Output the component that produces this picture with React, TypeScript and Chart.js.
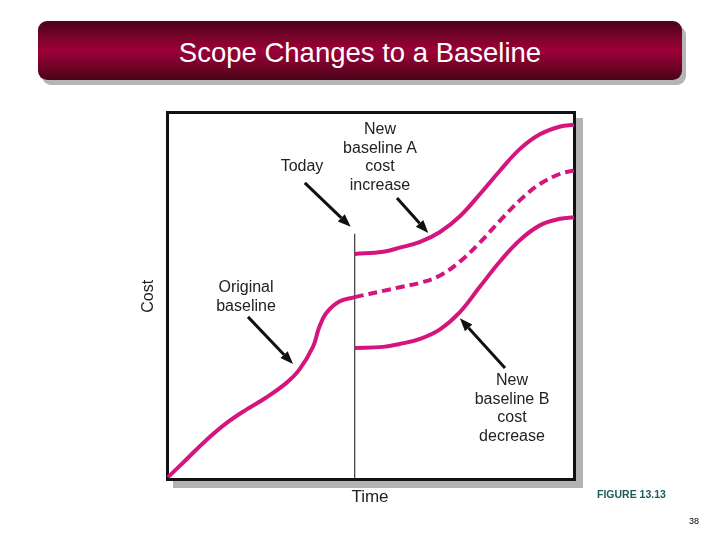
import { useEffect, useRef } from "react";
import { Chart, registerables } from "chart.js";

Chart.register(...registerables);

// x = time (0-100), y = cost (0-100)
const TODAY = 46;

const originalX = [0, 4.4, 9.4, 14.3, 19.2, 24.1, 29.1, 32.3, 35.7, 37.2, 38.9, 42.1, 46];
const originalY = [0.5, 5.2, 10.6, 15.2, 18.9, 22.2, 26.2, 29.8, 36.1, 41.3, 45.2, 48.4, 49.7];

const projectedX = [46, 53, 57.1, 62.1, 67, 71.9, 76.8, 81.8, 86.7, 91.6, 96.6, 100];
const projectedY = [49.7, 51.4, 52.4, 53.6, 55.6, 59.4, 64.6, 70.6, 76.2, 80.6, 83.4, 84.3];

const baselineAX = [46, 53, 57.1, 62.1, 67, 71.9, 76.8, 81.8, 86.7, 91.6, 96.6, 100];
const baselineAY = [61.5, 62.1, 63.2, 64.8, 67.5, 71.8, 77.8, 84.3, 90.2, 94.2, 96.3, 96.8];

const baselineBX = [46, 53, 57.1, 62.1, 67, 71.9, 76.8, 81.8, 86.7, 91.6, 96.6, 100];
const baselineBY = [35.8, 36.1, 36.9, 38.3, 40.9, 45.6, 52.5, 59.5, 65.3, 69.3, 71.1, 71.5];

const todayY = [0, 67];

// arrows: [fromX, fromY, toX, toY] in data units
const arrows = [
  [33.7, 80.9, 45, 68.9],
  [56.4, 76.8, 64.1, 67.2],
  [19.7, 44.3, 30.8, 31.4],
  [83, 30.3, 71.9, 43.9],
];

const PINK = "#d5157e";

const toPoints = (xs: number[], ys: number[]) => xs.map((x, i) => ({ x, y: ys[i] }));

const arrowPlugin = {
  id: "arrows",
  afterDatasetsDraw(chart: Chart) {
    const { ctx, scales } = chart;
    const sx = scales.x;
    const sy = scales.y;
    ctx.save();
    ctx.strokeStyle = "#111";
    ctx.fillStyle = "#111";
    ctx.lineWidth = 3;
    arrows.forEach(([x1, y1, x2, y2]) => {
      const ax = sx.getPixelForValue(x1);
      const ay = sy.getPixelForValue(y1);
      const bx = sx.getPixelForValue(x2);
      const by = sy.getPixelForValue(y2);
      const ang = Math.atan2(by - ay, bx - ax);
      const head = 13;
      const hx = bx - Math.cos(ang) * head;
      const hy = by - Math.sin(ang) * head;
      ctx.beginPath();
      ctx.moveTo(ax, ay);
      ctx.lineTo(hx, hy);
      ctx.stroke();
      ctx.beginPath();
      ctx.moveTo(bx, by);
      ctx.lineTo(hx + Math.cos(ang + Math.PI / 2) * 5, hy + Math.sin(ang + Math.PI / 2) * 5);
      ctx.lineTo(hx + Math.cos(ang - Math.PI / 2) * 5, hy + Math.sin(ang - Math.PI / 2) * 5);
      ctx.closePath();
      ctx.fill();
    });
    ctx.restore();
  },
};

const labelStyle: React.CSSProperties = {
  position: "absolute",
  fontFamily: "'Liberation Sans', Arial, sans-serif",
  fontSize: 16,
  lineHeight: "18.5px",
  color: "#222",
  textAlign: "center",
  transform: "translateX(-50%)",
  whiteSpace: "nowrap",
};

export default function App() {
  const canvasRef = useRef<HTMLCanvasElement | null>(null);

  useEffect(() => {
    if (!canvasRef.current) {
      return;
    }
    const line = (xs: number[], ys: number[], dash: number[] = []) => ({
      data: toPoints(xs, ys),
      borderColor: PINK,
      borderWidth: 4,
      borderDash: dash,
      tension: 0.4,
    });
    const chart = new Chart(canvasRef.current, {
      type: "line",
      data: {
        datasets: [
          line(originalX, originalY),
          line(projectedX, projectedY, [9, 5]),
          line(baselineAX, baselineAY),
          line(baselineBX, baselineBY),
          { data: toPoints([TODAY, TODAY], todayY), borderColor: "#111", borderWidth: 1 },
        ],
      },
      options: {
        responsive: false,
        animation: false,
        devicePixelRatio: 1,
        clip: false,
        layout: { padding: { left: 168, right: 146, top: 113, bottom: 61 } },
        elements: { point: { radius: 0 } },
        plugins: { legend: { display: false }, tooltip: { enabled: false } },
        scales: {
          x: { type: "linear", min: 0, max: 100, display: false },
          y: { type: "linear", min: 0, max: 100, display: false },
        },
      },
      plugins: [arrowPlugin],
    });
    return () => {
      chart.destroy();
    };
  }, []);

  return (
    <div style={{ position: "fixed", left: 0, top: 0, width: 720, height: 540, background: "#fff", overflow: "hidden" }}>
      <div
        style={{
          position: "absolute",
          left: 38,
          top: 21,
          width: 644,
          height: 59,
          borderRadius: 9,
          background: "linear-gradient(to bottom, #4a0418 0%, #86022f 35%, #9a0038 50%, #86022f 65%, #4a0418 100%)",
          boxShadow: "4px 5px 0 #b5b5b5",
          color: "#fff",
          fontFamily: "'Liberation Sans', Arial, sans-serif",
          fontSize: 27.5,
          lineHeight: "63px",
          textAlign: "center",
        }}
      >
        Scope Changes to a Baseline
      </div>
      <div
        style={{
          position: "absolute",
          left: 166,
          top: 111,
          width: 404,
          height: 364,
          border: "3px solid #111",
          boxShadow: "7px 7px 0 #b3b3b3",
          background: "#fff",
        }}
      />
      <canvas ref={canvasRef} width={720} height={540} style={{ position: "absolute", left: 0, top: 0 }} />
      <div style={{ ...labelStyle, left: 302, top: 157 }}>Today</div>
      <div style={{ ...labelStyle, left: 380, top: 120 }}>
        New
        <br />
        baseline A
        <br />
        cost
        <br />
        increase
      </div>
      <div style={{ ...labelStyle, left: 246, top: 278 }}>
        Original
        <br />
        baseline
      </div>
      <div style={{ ...labelStyle, left: 512, top: 371 }}>
        New
        <br />
        baseline B
        <br />
        cost
        <br />
        decrease
      </div>
      <div
        style={{
          ...labelStyle,
          left: 148,
          top: 287,
          transform: "translateX(-50%) rotate(-90deg)",
        }}
      >
        Cost
      </div>
      <div style={{ ...labelStyle, left: 370, top: 488, fontSize: 17 }}>Time</div>
      <div
        style={{
          position: "absolute",
          left: 597,
          top: 488,
          fontFamily: "'Liberation Sans', Arial, sans-serif",
          fontSize: 10.5,
          fontWeight: "bold",
          color: "#1e5a5c",
        }}
      >
        FIGURE 13.13
      </div>
      <div
        style={{
          position: "absolute",
          left: 689,
          top: 516,
          fontFamily: "'Liberation Sans', Arial, sans-serif",
          fontSize: 9,
          color: "#000",
        }}
      >
        38
      </div>
    </div>
  );
}
